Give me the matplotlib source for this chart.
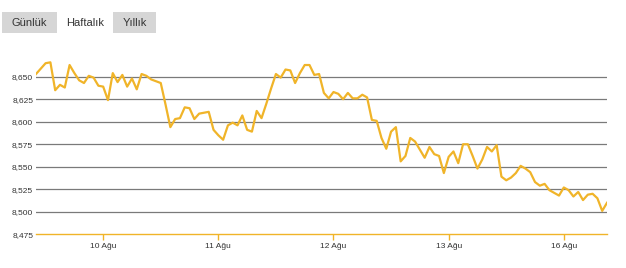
import matplotlib
matplotlib.use("Agg")
import matplotlib.pyplot as plt
from matplotlib.patches import Rectangle

# ---- data ----
values = [
    8.653, 8.659, 8.665, 8.666, 8.635, 8.641, 8.638, 8.663, 8.654, 8.646,
    8.643, 8.651, 8.649, 8.640, 8.639, 8.624, 8.654, 8.644, 8.652, 8.639,
    8.648, 8.636, 8.653, 8.651, 8.647, 8.645, 8.643, 8.619, 8.594, 8.603,
    8.604, 8.616, 8.615, 8.603, 8.609, 8.610, 8.611, 8.591, 8.585, 8.580,
    8.596, 8.599, 8.596, 8.607, 8.591, 8.589, 8.612, 8.604, 8.620, 8.637,
    8.653, 8.649, 8.658, 8.657, 8.643, 8.654, 8.663, 8.663, 8.652, 8.653,
    8.632, 8.626, 8.633, 8.631, 8.625, 8.632, 8.626, 8.626, 8.630, 8.627,
    8.602, 8.601, 8.582, 8.570, 8.589, 8.594, 8.556, 8.562, 8.582, 8.578,
    8.569, 8.560, 8.572, 8.564, 8.562, 8.543, 8.561, 8.567, 8.554, 8.575,
    8.575, 8.562, 8.548, 8.558, 8.572, 8.567, 8.574, 8.539, 8.535, 8.538,
    8.543, 8.551, 8.548, 8.544, 8.533, 8.529, 8.531, 8.524, 8.521, 8.518,
    8.527, 8.524, 8.517, 8.522, 8.513, 8.519, 8.520, 8.515, 8.501, 8.510,
]
x_tick_positions = [14, 38, 62, 86, 110]
x_tick_labels = ["10 Ağu", "11 Ağu", "12 Ağu", "13 Ağu", "16 Ağu"]
y_ticks = [8.475, 8.500, 8.525, 8.550, 8.575, 8.600, 8.625, 8.650]
y_tick_labels = ["8,475", "8,500", "8,525", "8,550", "8,575", "8,600", "8,625", "8,650"]
buttons = ["Günlük", "Haftalık", "Yıllık"]

plt.rcParams['font.family'] = ['Liberation Sans', 'DejaVu Sans']

W, H = 626, 268
fig = plt.figure(figsize=(W / 100, H / 100), dpi=100)
fig.patch.set_facecolor("white")

ax_left, ax_right, ax_bottom, ax_top = 36, 607, 234.3, 40.7
ax = fig.add_axes([ax_left / W, (H - ax_bottom) / H, (ax_right - ax_left) / W, (ax_bottom - ax_top) / H])

gold = "#f0b429"
ax.plot(range(len(values)), values, color=gold, lw=1.6, solid_joinstyle="round", zorder=3)

ax.set_xlim(0, len(values) - 1)
ax.set_ylim(8.475, 8.690)

for yv in y_ticks[1:]:
    ax.axhline(yv, color="#7a7a7a", lw=0.9, zorder=1)

for s in ["top", "right", "left"]:
    ax.spines[s].set_visible(False)
ax.spines["bottom"].set_color(gold)
ax.spines["bottom"].set_linewidth(1.0)

ax.set_yticks(y_ticks)
ax.set_yticklabels(y_tick_labels)
ax.tick_params(axis="y", length=0, pad=2, labelsize=6, labelcolor="#333333")
ax.set_xticks(x_tick_positions)
ax.set_xticklabels(x_tick_labels)
ax.tick_params(axis="x", length=4, width=1, color=gold, pad=2, labelsize=6, labelcolor="#333333")

# buttons
btn_boxes = [(2, 57, True), (60, 110, False), (113, 156, True)]
for label, (x0, x1, filled) in zip(buttons, btn_boxes):
    y0, y1 = 12, 33
    if filled:
        fig.add_artist(Rectangle((x0 / W, (H - y1) / H), (x1 - x0) / W, (y1 - y0) / H,
                                 transform=fig.transFigure, facecolor="#d6d6d6", edgecolor="none"))
    fig.text((x0 + x1) / 2 / W, (H - (y0 + y1) / 2) / H, label, ha="center", va="center",
             fontsize=8, color="#333333")

fig.savefig("out.png", dpi=100, facecolor="white")
